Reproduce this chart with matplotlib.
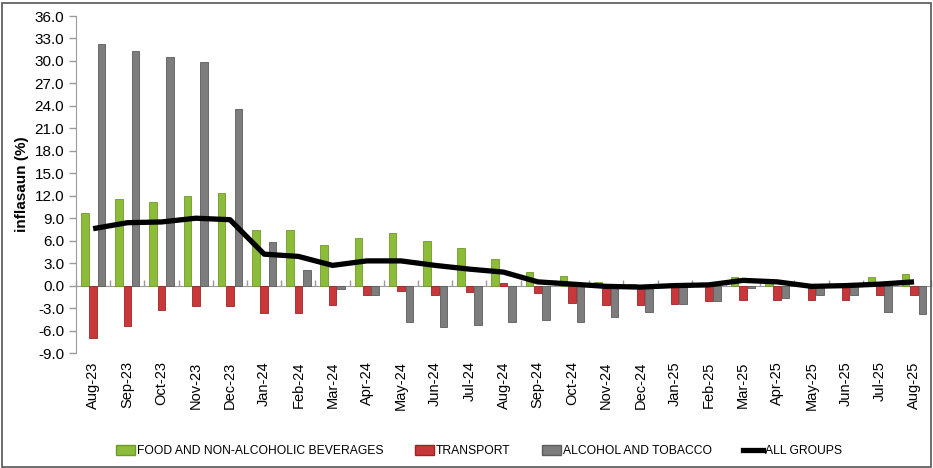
import numpy as np
import matplotlib
matplotlib.use("Agg")
import matplotlib.pyplot as plt
from matplotlib.patches import Rectangle
from matplotlib.lines import Line2D

months = ['Aug-23', 'Sep-23', 'Oct-23', 'Nov-23', 'Dec-23', 'Jan-24', 'Feb-24', 'Mar-24',
          'Apr-24', 'May-24', 'Jun-24', 'Jul-24', 'Aug-24', 'Sep-24', 'Oct-24', 'Nov-24',
          'Dec-24', 'Jan-25', 'Feb-25', 'Mar-25', 'Apr-25', 'May-25', 'Jun-25', 'Jul-25', 'Aug-25']

food = [9.7, 11.5, 11.2, 11.9, 12.4, 7.4, 7.4, 5.4, 6.3, 7.0, 5.9, 5.0, 3.6,
        1.8, 1.3, 0.5, 0.2, 0.2, 0.2, 1.2, 0.9, 0.1, 0.0, 1.2, 1.6]
transport = [-7.0, -5.4, -3.2, -2.7, -2.7, -3.7, -3.7, -2.6, -1.2, -0.7, -1.2, -0.8, 0.3,
             -1.0, -2.3, -2.6, -2.6, -2.4, -2.1, -1.9, -1.9, -1.9, -1.9, -1.2, -1.2]
alcohol = [32.2, 31.3, 30.5, 29.9, 23.6, 5.8, 2.1, -0.4, -1.3, -4.8, -5.5, -5.3, -4.9,
           -4.6, -4.9, -4.2, -3.5, -2.4, -2.1, -0.3, -1.7, -1.2, -1.2, -3.5, -3.8]
all_groups = [7.6, 8.4, 8.5, 9.0, 8.8, 4.2, 3.9, 2.7, 3.3, 3.3, 2.7, 2.2, 1.8,
              0.5, 0.2, -0.1, -0.2, 0.0, 0.1, 0.7, 0.5, -0.1, 0.0, 0.2, 0.5]

labels = ['FOOD AND NON-ALCOHOLIC BEVERAGES', 'TRANSPORT', 'ALCOHOL AND TOBACCO', 'ALL GROUPS']

c_food = '#8cbc3a'
c_trans = '#c8373a'
c_alc = '#7d7d7d'

plt.rcParams['font.family'] = ['Liberation Sans', 'DejaVu Sans']

fig = plt.figure(figsize=(9.33, 4.68), dpi=100)
ax = fig.add_axes([0.0815, 0.2457, 0.9165, 0.7201])

x = np.arange(len(months))
w = 0.22
ax.bar(x - 0.245, food, w, color=c_food, edgecolor='#6e9a28', linewidth=0.6, zorder=2)
ax.bar(x, transport, w, color=c_trans, edgecolor='#9e2325', linewidth=0.6, zorder=2)
ax.bar(x + 0.245, alcohol, w, color=c_alc, edgecolor='#5c5c5c', linewidth=0.6, zorder=2)
ax.plot(x, all_groups, color='black', lw=3.8, solid_joinstyle='round',
        solid_capstyle='butt', zorder=3)

ax.set_xlim(-0.5, len(months) - 0.5)
ax.set_ylim(-9, 36)
ax.set_yticks(np.arange(-9, 37, 3))
ax.set_yticklabels([f'{v:.1f}' for v in np.arange(-9, 37, 3)], fontsize=11)
ax.tick_params(axis='y', direction='out', length=5, color='#9a9a9a', width=1)

# category axis crosses at zero, labels kept at the bottom
for s in ['top', 'right']:
    ax.spines[s].set_visible(False)
ax.spines['left'].set_color('#9a9a9a')
ax.spines['bottom'].set_position(('data', 0))
ax.spines['bottom'].set_color('#9a9a9a')
ax.spines['bottom'].set_zorder(1)
ax.set_xticks(np.arange(-0.5, len(months), 1))
ax.set_xticklabels([])
ax.tick_params(axis='x', direction='in', length=4, color='#9a9a9a', width=1)

sec = ax.secondary_xaxis('bottom')
sec.set_xticks(x)
sec.set_xticklabels(months, rotation=90, fontsize=10.5)
sec.tick_params(length=0, pad=6)
sec.spines['bottom'].set_visible(False)

ax.set_ylabel('inflasaun (%)', fontsize=11, fontweight='bold', labelpad=4)

handles = [Rectangle((0, 0), 1, 1, fc=c_food, ec='#6e9a28'),
           Rectangle((0, 0), 1, 1, fc=c_trans, ec='#9e2325'),
           Rectangle((0, 0), 1, 1, fc=c_alc, ec='#5c5c5c'),
           Line2D([], [], color='black', lw=3.8)]
fig.legend(handles, labels, loc='center', bbox_to_anchor=(0.513, 0.036), ncol=4,
           frameon=False, fontsize=8.7, handlelength=1.6, handleheight=0.9,
           handletextpad=0.15, columnspacing=2.6)

fig.patches.append(Rectangle((0.002, 0.002), 0.996, 0.991, transform=fig.transFigure,
                             fill=False, ec='#555555', lw=1.2))

fig.savefig('out.png', dpi=100)
